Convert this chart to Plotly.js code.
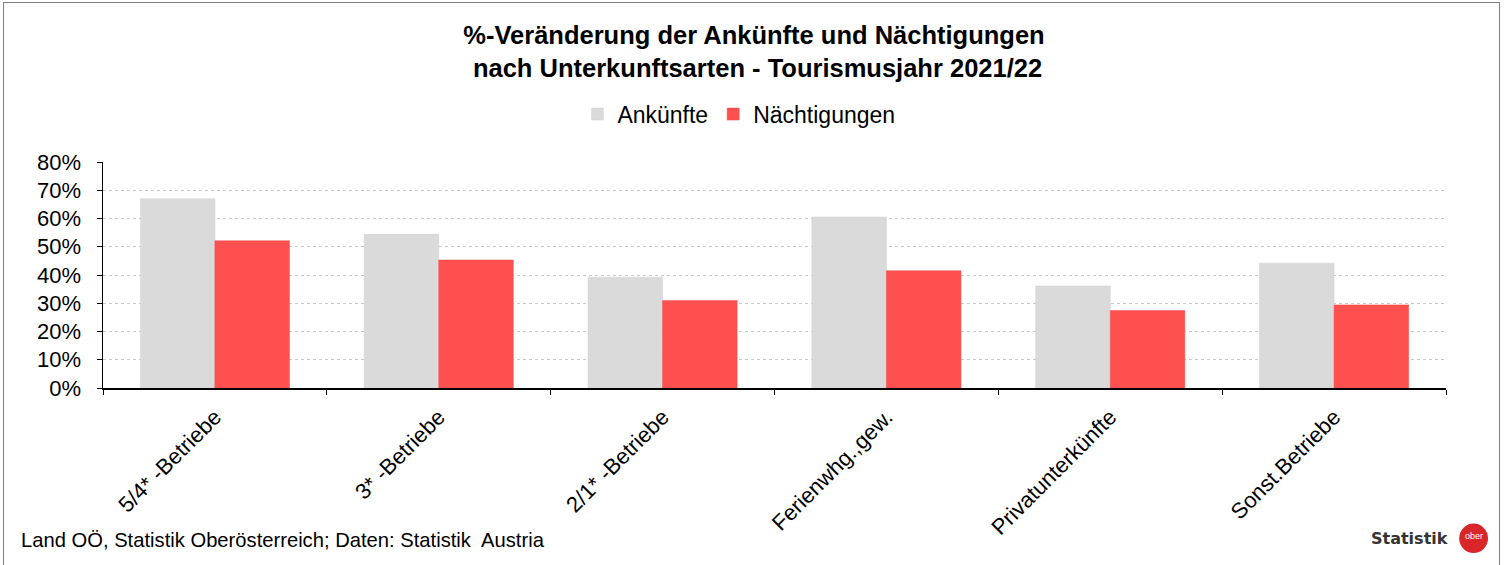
<!DOCTYPE html>
<html>
<head>
<meta charset="utf-8">
<script src="https://cdn.plot.ly/plotly-3.0.1.min.js"></script>
<style>
html,body{margin:0;padding:0;background:#fff;}
#frame{position:absolute;left:3px;top:2px;width:1497px;height:570px;border:1px solid #7f7f7f;box-sizing:border-box;}
#chart{position:absolute;left:0;top:0;width:1511px;height:565px;}
</style>
</head>
<body>
<div id="frame"></div>
<div id="chart"></div>
<script>
const categories = ["5/4* -Betriebe", "3* -Betriebe", "2/1* -Betriebe", "Ferienwhg.,gew.", "Privatunterkünfte", "Sonst.Betriebe"];
const ankuenfte = [0.670, 0.544, 0.392, 0.605, 0.361, 0.442];
const naechtigungen = [0.521, 0.453, 0.310, 0.415, 0.274, 0.294];
const yTicks = [0, 0.1, 0.2, 0.3, 0.4, 0.5, 0.6, 0.7, 0.8];

const font = "Liberation Sans, Arial, sans-serif";

const traces = [
  {type: "bar", name: "Ankünfte", x: categories, y: ankuenfte,
   marker: {color: "#DADADA", line: {color: "#D0D0D0", width: 0.5}}, hoverinfo: "x+y"},
  {type: "bar", name: "Nächtigungen", x: categories, y: naechtigungen,
   marker: {color: "#FF5050", line: {color: "#F24848", width: 0.5}}, hoverinfo: "x+y"}
];

const layout = {
  width: 1511, height: 565,
  paper_bgcolor: "rgba(0,0,0,0)", plot_bgcolor: "rgba(0,0,0,0)",
  margin: {l: 103, r: 65, t: 162, b: 177},
  font: {family: font, color: "#000"},
  title: {
    text: "<b>%-Veränderung der Ankünfte und Nächtigungen<br> nach Unterkunftsarten - Tourismusjahr 2021/22</b>",
    font: {family: font, size: 25.5, color: "#000"},
    x: 0.499, xanchor: "center", xref: "container", y: 0.922, yanchor: "middle"
  },
  barmode: "group",
  bargap: 0.334,
  bargroupgap: 0,
  showlegend: true,
  legend: {orientation: "h", x: 0.489, xref: "container", xanchor: "center", y: 0.798, yref: "container", yanchor: "middle",
           font: {family: font, size: 23, color: "#000"}, itemwidth: 30, traceorder: "normal"},
  xaxis: {
    type: "category", tickangle: -45, tickson: "boundaries",
    ticks: "outside", ticklen: 5, tickcolor: "#000", tickwidth: 1,
    showline: true, linecolor: "#000", linewidth: 1.5,
    tickfont: {family: font, size: 22, color: "#000"},
    ticklabelstandoff: 6,
    showgrid: false, fixedrange: true
  },
  yaxis: {
    range: [0, 0.8], tickvals: yTicks, tickformat: ".0%",
    ticks: "outside", ticklen: 5, tickcolor: "#000",
    showline: true, linecolor: "#000", linewidth: 1.5,
    showgrid: true, gridcolor: "#C8C8C8", griddash: "dot", gridwidth: 1,
    tickfont: {family: font, size: 22, color: "#000"},
    ticklabelstandoff: 11,
    zeroline: false, fixedrange: true
  },
  annotations: [
    {text: "Land OÖ, Statistik Oberösterreich; Daten: Statistik  Austria", xref: "paper", yref: "paper",
     x: -0.0625, y: -0.672, xanchor: "left", yanchor: "middle", showarrow: false,
     font: {family: font, size: 20.2, color: "#000"}},
    {text: "<b>Statistik</b>", xref: "paper", yref: "paper", x: 1.003, y: -0.665, xanchor: "right", yanchor: "middle",
     showarrow: false, font: {family: "DejaVu Sans, sans-serif", size: 16, color: "#333"}},
    {text: "ober", xref: "paper", yref: "paper", x: 1.0205, y: -0.657, xanchor: "center", yanchor: "middle",
     showarrow: false, font: {family: font, size: 9, color: "#fff"}}
  ],
  shapes: [
    {type: "circle", xref: "paper", yref: "paper", x0: 1.0098, x1: 1.0313, y0: -0.73, y1: -0.6,
     fillcolor: "#D9262B", line: {color: "#D9262B", width: 0}}
  ]
};

Plotly.newPlot("chart", traces, layout, {displayModeBar: false, staticPlot: true});
</script>
</body>
</html>
